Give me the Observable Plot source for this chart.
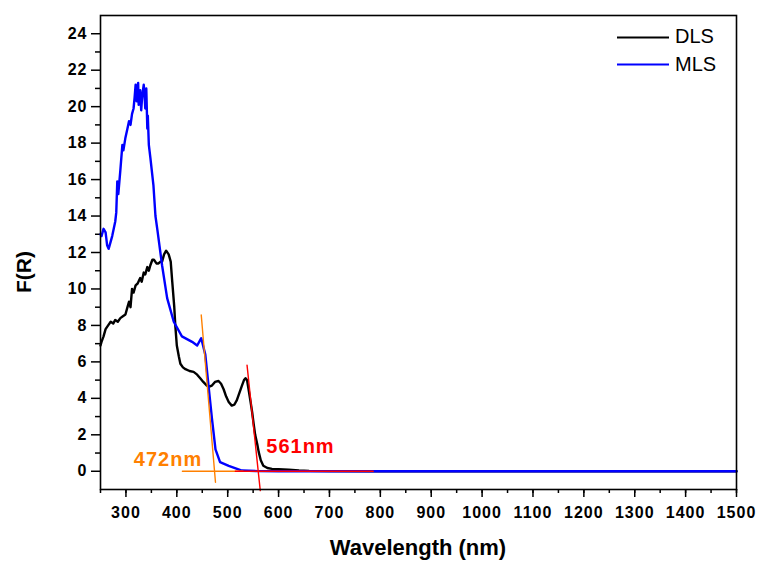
<!DOCTYPE html>
<html><head><meta charset="utf-8">
<script src="https://cdn.jsdelivr.net/npm/d3@7"></script>
<script src="https://cdn.jsdelivr.net/npm/@observablehq/plot@0.6"></script>
<style>
body{margin:0;background:#fff;}
#wrap{position:relative;width:761px;height:561px;font-family:"Liberation Sans",Arial,sans-serif;overflow:hidden;}
#wrap svg{position:absolute;left:0;top:0;}
.lbl{position:absolute;font-weight:bold;color:#000;white-space:nowrap;}
.leg{position:absolute;font-size:20px;color:#000;white-space:nowrap;}
.leg span{display:inline-block;width:52px;height:0;vertical-align:middle;margin-right:6px;}
</style></head><body><div id="wrap"></div>
<script>
// DLS series (wavelength nm, F(R))
const dlsWavelength = [250,252,256,260,265,270,275,279,284,289,294,299,303,306,309,312,315,319,323,328,331,335,338,342,345,348,352,355,360,364,368,371,375,379,384,388,391,395,397,400,404,407,412,417,425,433,440,446,452,459,464,469,475,482,487,492,497,502,508,513,518,523,528,532,535,538,541,545,548,551,554,558,561,565,570,578,587,600,620,640,660,700,800,1000,1200,1500];
const dlsF = [6.9,7.1,7.4,7.8,8.0,8.2,8.1,8.3,8.2,8.4,8.5,8.6,9.0,9.3,9.0,10.0,9.8,10.2,10.3,10.6,10.4,10.9,10.8,11.2,11.0,11.3,11.6,11.6,11.4,11.4,11.5,11.5,11.9,12.1,11.9,11.5,10.4,9.0,8.0,6.9,6.3,5.9,5.7,5.6,5.5,5.45,5.3,5.1,4.9,4.7,4.65,4.7,4.9,4.95,4.8,4.5,4.1,3.8,3.6,3.65,3.9,4.3,4.7,5.0,5.1,5.0,4.5,3.8,3.25,2.6,2.0,1.5,1.05,0.6,0.3,0.18,0.13,0.12,0.08,0.04,0.02,0.01,0,0,0,0];
// MLS series
const mlsWavelength = [250,252,256,260,263,266,270,273,276,279,281,283,285,289,293,295,299,303,306,309,312,315,317,319,321,322,324,325,327,328,330,332,335,337,338,340,342,343,345,348,354,358,362,371,381,394,410,430,440,448,456,463,469,476,485,502,528,560,600,800,1000,1200,1500];
const mlsF = [13.0,12.9,13.3,13.1,12.4,12.2,12.6,12.9,13.3,13.7,14.2,15.9,15.2,16.5,17.9,17.6,18.3,18.8,19.2,19.0,19.6,19.9,20.5,21.2,20.3,20.9,21.3,20.1,20.8,20.9,19.8,20.6,21.2,20.4,19.9,21.0,18.8,19.5,17.9,17.2,15.7,14.0,13.2,11.3,9.5,8.2,7.4,7.1,6.9,7.3,6.4,4.5,2.9,1.2,0.5,0.3,0.04,0.01,0,0,0,0,0];
// Tangent construction lines
const orangeTangentX = [448,476];
const orangeTangentY = [8.57,-0.6];
const orangeBaseX = [411,530];
const orangeBaseY = [0,0];
const redTangentX = [538,564];
const redTangentY = [5.82,-1.06];
const redBaseX = [515,786];
const redBaseY = [0,0];
// Annotations
const annotLabels = ["472nm","561nm"];
const annotX = [382.7,643];
const annotY = [0.65,1.33];
const annotColors = ["#ff8000","#ff0000"];
// Ticks
const xTicks = d3.range(300,1501,100);
const xMinorTicks = d3.range(250,1501,50);
const yTicks = d3.range(0,25,2);
const yMinorTicks = d3.range(1,25,2);

const toPts = (xs, ys) => xs.map((x,i)=>({x, y: ys[i]}));
const dls = toPts(dlsWavelength, dlsF);
const mls = toPts(mlsWavelength, mlsF);
const annots = annotLabels.map((t,i)=>({t, x: annotX[i], y: annotY[i], c: annotColors[i]}));

const chart = Plot.plot({
  width: 761, height: 561,
  marginLeft: 100, marginRight: 25, marginTop: 15, marginBottom: 72,
  x: {domain: [250,1500]},
  y: {domain: [-1,25]},
  style: {fontFamily: '"Liberation Sans", Arial, sans-serif', fontSize: "16px", fontWeight: "bold", background: "#fff", color: "#000"},
  marks: [
    Plot.axisX({ticks: xMinorTicks, tickSize: 4, tickFormat: () => "", label: null, strokeWidth: 1.5}),
    Plot.axisX({ticks: xTicks, tickSize: 8, tickPadding: 9, tickFormat: d => String(d), fontSize: 16, fontWeight: "bold", label: null, strokeWidth: 1.5}),
    Plot.axisY({ticks: yMinorTicks, tickSize: 5, tickFormat: () => "", label: null, strokeWidth: 1.5}),
    Plot.axisY({ticks: yTicks, tickSize: 9, tickPadding: 4, tickFormat: d => String(d), fontSize: 16, fontWeight: "bold", label: null, strokeWidth: 1.5}),
    Plot.line(dls, {x: "x", y: "y", stroke: "#000", strokeWidth: 2.4, curve: "linear"}),
    Plot.line(mls, {x: "x", y: "y", stroke: "#0000ff", strokeWidth: 2.4, curve: "linear"}),
    Plot.line(toPts(orangeBaseX, orangeBaseY), {x: "x", y: "y", stroke: "#ff8000", strokeWidth: 1.4}),
    Plot.line(toPts(orangeTangentX, orangeTangentY), {x: "x", y: "y", stroke: "#ff8000", strokeWidth: 1.4}),
    Plot.line(toPts(redBaseX, redBaseY), {x: "x", y: "y", stroke: "#ff0000", strokeWidth: 1.4}),
    Plot.line(toPts(redTangentX, redTangentY), {x: "x", y: "y", stroke: "#ff0000", strokeWidth: 1.4}),
    Plot.text(annots, {x: "x", y: "y", text: "t", fill: "c", fontSize: 20, fontWeight: "bold"}),
    Plot.frame({stroke: "#000", strokeWidth: 1.6})
  ]
});

const wrap = document.getElementById("wrap");
wrap.appendChild(chart);
d3.select(chart).selectAll("g[aria-label='x-axis tick label'] text, g[aria-label='y-axis tick label'] text").style("letter-spacing","1px");
d3.select(chart).selectAll("g[aria-label='text'] text").style("letter-spacing","1px");

// Axis titles
const xl = document.createElement("div");
xl.className = "lbl"; xl.textContent = "Wavelength (nm)";
xl.style.cssText = "left:418px;top:548px;transform:translate(-50%,-50%);font-size:22px;";
wrap.appendChild(xl);
const yl = document.createElement("div");
yl.className = "lbl"; yl.textContent = "F(R)";
yl.style.cssText = "left:24px;top:272px;transform:translate(-50%,-50%) rotate(-90deg);font-size:21px;";
wrap.appendChild(yl);

// Legend
const legendNames = ["DLS","MLS"];
const legendColors = ["#000","#0000ff"];
legendNames.forEach((n,i)=>{
  const d = document.createElement("div");
  d.className = "leg";
  d.style.left = "617px";
  d.style.top = (36 + i*27.5) + "px";
  d.style.transform = "translateY(-50%)";
  const s = document.createElement("span");
  s.style.borderTop = "2px solid " + legendColors[i];
  d.appendChild(s);
  d.appendChild(document.createTextNode(n));
  wrap.appendChild(d);
});
</script>
</body></html>
